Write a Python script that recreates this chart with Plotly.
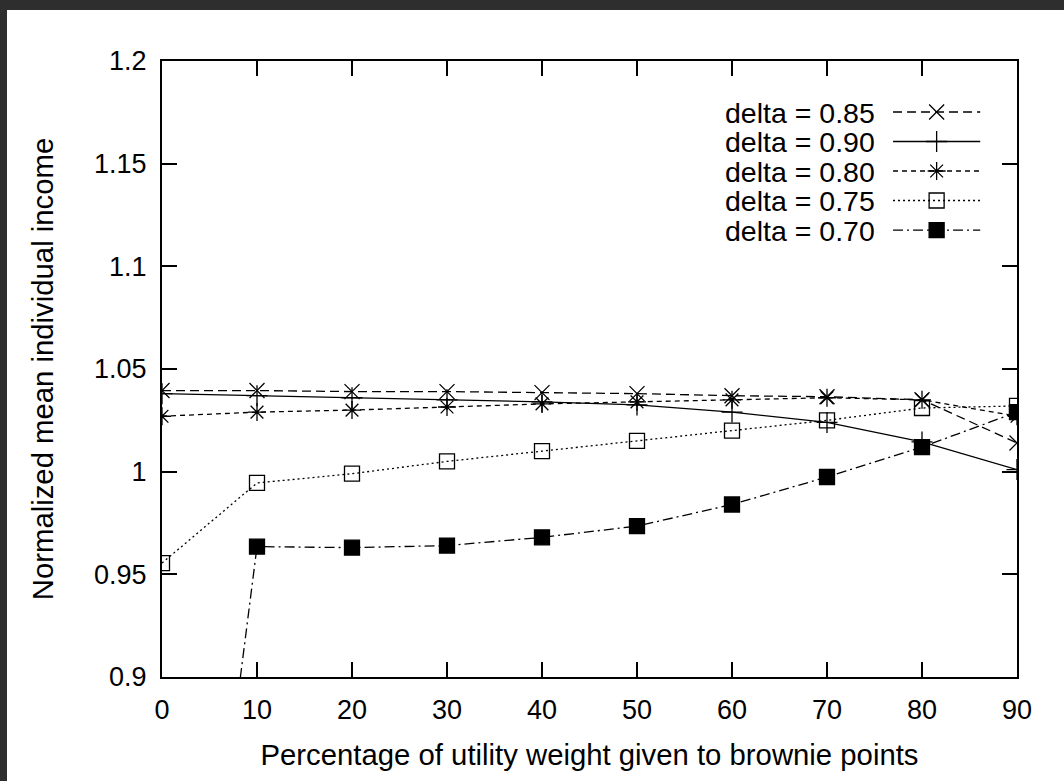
import plotly.graph_objects as go

# ---------------- data ----------------
x_pct = [0, 10, 20, 30, 40, 50, 60, 70, 80, 90]
delta_085 = [1.0395, 1.0395, 1.039, 1.039, 1.0385, 1.038, 1.037, 1.0365, 1.035, 1.014]
delta_090 = [1.038, 1.037, 1.036, 1.035, 1.034, 1.0325, 1.029, 1.024, 1.0145, 1.001]
delta_080 = [1.027, 1.029, 1.030, 1.0315, 1.033, 1.034, 1.035, 1.036, 1.035, 1.027]
delta_075 = [0.9555, 0.9945, 0.999, 1.005, 1.010, 1.015, 1.020, 1.025, 1.031, 1.032]
delta_070 = [0.60, 0.9635, 0.963, 0.964, 0.968, 0.9735, 0.984, 0.9974, 1.012, 1.029]

series_names = ["delta = 0.85", "delta = 0.90", "delta = 0.80", "delta = 0.75", "delta = 0.70"]
series_vals = [delta_085, delta_090, delta_080, delta_075, delta_070]

x_ticks = [0, 10, 20, 30, 40, 50, 60, 70, 80, 90]
y_ticks = [0.9, 0.95, 1.0, 1.05, 1.1, 1.15, 1.2]
y_ticktext = ["0.9", "0.95", "1", "1.05", "1.1", "1.15", "1.2"]

# ---------------- styles ----------------
styles = [
    dict(dash="9px,5px", symbol="x-thin-open", size=15),
    dict(dash="solid", symbol="cross-thin-open", size=15),
    dict(dash="5px,4px", symbol="asterisk-open", size=15),
    dict(dash="2px,3px", symbol="square-open", size=15),
    dict(dash="10px,4px,2px,4px", symbol="square", size=15),
]

FONT = "Liberation Sans, Arial, Helvetica, sans-serif"
W, H = 1064, 781
L, R, T, B = 162, 47, 61, 104

fig = go.Figure()

for name, vals, st in zip(series_names, series_vals, styles):
    fig.add_trace(go.Scatter(
        x=x_pct, y=vals, mode="lines+markers", name=name, showlegend=False,
        line=dict(color="black", width=1.3, dash=st["dash"]),
        marker=dict(symbol=st["symbol"], size=st["size"], color="black",
                    line=dict(color="black", width=1.3)),
    ))

# manual gnuplot-style legend (text right-justified, sample to the right)
row_y = [0.9172, 0.8693, 0.8214, 0.7735, 0.7256]
for name, st, yy in zip(series_names, styles, row_y):
    fig.add_trace(go.Scatter(
        x=[0.855, 0.957], y=[yy, yy], mode="lines", xaxis="x2", yaxis="y2",
        showlegend=False, hoverinfo="skip",
        line=dict(color="black", width=1.3, dash=st["dash"]),
    ))
    fig.add_trace(go.Scatter(
        x=[0.906], y=[yy], mode="markers", xaxis="x2", yaxis="y2",
        showlegend=False, hoverinfo="skip",
        marker=dict(symbol=st["symbol"], size=st["size"], color="black",
                    line=dict(color="black", width=1.3)),
    ))
    fig.add_annotation(x=0.835, y=yy, xref="x2", yref="y2", text=name,
                       showarrow=False, xanchor="right", yanchor="middle",
                       height=25, borderpad=0, valign="middle",
                       font=dict(family=FONT, size=28.5, color="black"))

axis_common = dict(
    showline=True, linecolor="black", linewidth=2, mirror="allticks",
    ticks="inside", ticklen=15, tickwidth=1.6, tickcolor="black",
    showgrid=False, zeroline=False,
    tickfont=dict(family=FONT, size=27, color="black"),
    ticklabelstandoff=8,
)

fig.update_layout(
    width=W, height=H,
    margin=dict(l=L, r=R, t=T, b=B, autoexpand=False),
    paper_bgcolor="white", plot_bgcolor="white",
    showlegend=False,
    xaxis=dict(range=[0, 90], tickvals=x_ticks, **axis_common,
               title=dict(text="Percentage of utility weight given to brownie points",
                          font=dict(family=FONT, size=29.3, color="black"), standoff=20)),
    yaxis=dict(range=[0.9, 1.2], tickvals=y_ticks, ticktext=y_ticktext, **axis_common,
               title=dict(text="Normalized mean individual income",
                          font=dict(family=FONT, size=29.3, color="black"), standoff=32)),
    xaxis2=dict(range=[0, 1], overlaying="x", visible=False, fixedrange=True),
    yaxis2=dict(range=[0, 1], overlaying="y", visible=False, fixedrange=True),
)

# dark frame strips of the original screenshot (top and left)
pw, ph = W - L - R, H - T - B
fig.add_shape(type="rect", xref="paper", yref="paper", layer="above",
              x0=(0 - L) / pw, x1=(W - L) / pw,
              y0=1 + (T - 10) / ph, y1=1 + T / ph,
              fillcolor="#2e2e2e", line=dict(width=0))
fig.add_shape(type="rect", xref="paper", yref="paper", layer="above",
              x0=(0 - L) / pw, x1=(7 - L) / pw,
              y0=-B / ph, y1=1 + T / ph,
              fillcolor="#2e2e2e", line=dict(width=0))

fig.write_html("out.html")
